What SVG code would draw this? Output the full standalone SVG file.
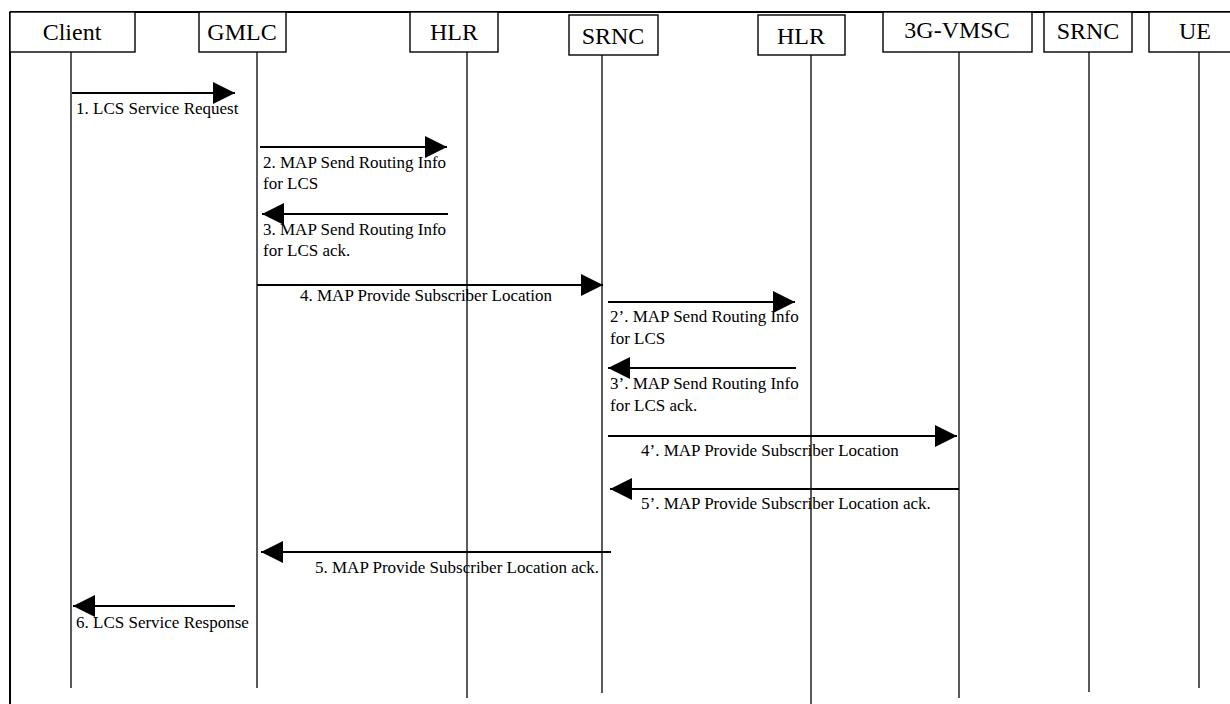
<svg xmlns="http://www.w3.org/2000/svg" width="1230" height="704" viewBox="0 0 1230 704">
<style>
.box{fill:#fff;stroke:#000;stroke-width:1.4}
.life{stroke:#000;stroke-width:1.3}
.hd{font-family:"Liberation Serif",serif;font-size:24px;text-anchor:middle;fill:#000}
.lbl{font-family:"Liberation Serif",serif;font-size:17px;fill:#000}
.msg{stroke:#000;stroke-width:1.8;fill:none;marker-end:url(#ah)}
</style>
<defs>
<marker id="ah" markerUnits="userSpaceOnUse" markerWidth="22" markerHeight="22" refX="22" refY="11" orient="auto">
<path d="M0,0 L22,11 L0,22 z" fill="#000"/>
</marker>
</defs>
<rect width="1230" height="704" fill="#fff"/>
<g id="frame">
<line x1="10" y1="12" x2="1230" y2="12" stroke="#000" stroke-width="2"/>
<line x1="10" y1="12" x2="10" y2="704" stroke="#000" stroke-width="2"/>
</g>
<g id="node-client"><rect class="box" x="10" y="12" width="125" height="40"/><text class="hd" x="72" y="40">Client</text><line class="life" x1="71" y1="52" x2="71" y2="688"/></g>
<g id="node-gmlc"><rect class="box" x="199" y="12" width="87" height="40"/><text class="hd" x="242" y="40">GMLC</text><line class="life" x1="257" y1="52" x2="257" y2="688"/></g>
<g id="node-hlr1"><rect class="box" x="410" y="12" width="88" height="40"/><text class="hd" x="454" y="40">HLR</text><line class="life" x1="467" y1="52" x2="467" y2="698"/></g>
<g id="node-srnc1"><rect class="box" x="569" y="15" width="89" height="40"/><text class="hd" x="613" y="44">SRNC</text><line class="life" x1="602" y1="55" x2="602" y2="693"/></g>
<g id="node-hlr2"><rect class="box" x="758" y="15" width="87" height="40"/><text class="hd" x="801" y="44">HLR</text><line class="life" x1="811" y1="55" x2="811" y2="704"/></g>
<g id="node-vmsc"><rect class="box" x="883" y="12" width="149" height="40"/><text class="hd" x="957" y="38">3G-VMSC</text><line class="life" x1="959" y1="52" x2="959" y2="698"/></g>
<g id="node-srnc2"><rect class="box" x="1044" y="12" width="88" height="40"/><text class="hd" x="1088" y="39">SRNC</text><line class="life" x1="1089" y1="52" x2="1089" y2="692"/></g>
<g id="node-ue"><rect class="box" x="1149" y="12" width="100" height="40"/><text class="hd" x="1195" y="39">UE</text><line class="life" x1="1199" y1="52" x2="1199" y2="688"/></g>
<g id="connectors">
<line class="msg" x1="72" y1="93" x2="235" y2="93"/>
<text class="lbl" x="76" y="114">1. LCS Service Request</text>
<line class="msg" x1="260" y1="147" x2="447" y2="147"/>
<text class="lbl" x="263" y="168">2. MAP Send Routing Info</text>
<text class="lbl" x="263" y="189">for LCS</text>
<line class="msg" x1="448" y1="214" x2="262" y2="214"/>
<text class="lbl" x="263" y="235">3. MAP Send Routing Info</text>
<text class="lbl" x="263" y="256">for LCS ack.</text>
<line class="msg" x1="257" y1="285" x2="603" y2="285"/>
<text class="lbl" x="300" y="301">4. MAP Provide Subscriber Location</text>
<line class="msg" x1="608" y1="302" x2="795" y2="302"/>
<text class="lbl" x="610" y="322">2’. MAP Send Routing Info</text>
<text class="lbl" x="610" y="344">for LCS</text>
<line class="msg" x1="796" y1="368" x2="608" y2="368"/>
<text class="lbl" x="610" y="389">3’. MAP Send Routing Info</text>
<text class="lbl" x="610" y="411">for LCS ack.</text>
<line class="msg" x1="608" y1="436" x2="957" y2="436"/>
<text class="lbl" x="641" y="456">4’. MAP Provide Subscriber Location</text>
<line class="msg" x1="959" y1="489" x2="610" y2="489"/>
<text class="lbl" x="641" y="509">5’. MAP Provide Subscriber Location ack.</text>
<line class="msg" x1="611" y1="552" x2="261" y2="552"/>
<text class="lbl" x="315" y="573">5. MAP Provide Subscriber Location ack.</text>
<line class="msg" x1="235" y1="606" x2="73" y2="606"/>
<text class="lbl" x="76" y="628">6. LCS Service Response</text>
</g>
</svg>
